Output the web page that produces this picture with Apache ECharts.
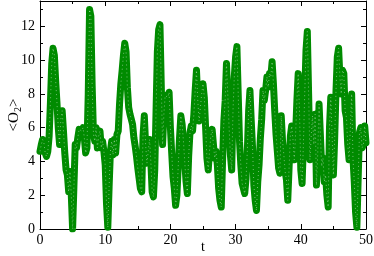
<!DOCTYPE html>
<html>
<head>
<meta charset="utf-8">
<script src="https://cdn.jsdelivr.net/npm/echarts@6/dist/echarts.min.js"></script>
<style>
html,body{margin:0;padding:0;background:#fff;}
#chart{width:374px;height:256px;}
</style>
</head>
<body>
<div id="chart"></div>
<script>
// sampling step of the time axis
const tStep = 0.2;
// <O2> values, sampled every 0.2 in t (5 values per unit of t)
const o2Values = [
  4.6,5.0,5.3,5.1,4.5,
  4.3,4.6,5.5,7.5,9.8,
  10.7,10.3,8.8,7.5,6.0,
  5.0,6.5,7.0,5.8,4.5,
  3.5,3.2,2.2,3.4,2.0,
  0.0,2.5,5.0,4.8,5.4,
  5.9,6.0,5.8,6.0,5.4,
  4.5,4.8,8.0,13.0,12.6,
  8.5,5.6,5.2,6.0,4.8,
  5.5,5.8,4.8,5.2,4.6,
  3.8,1.5,0.1,2.5,4.6,
  5.2,4.4,5.3,4.5,5.6,
  5.8,7.4,8.6,9.4,10.3,
  11.0,10.5,8.4,7.2,6.8,
  6.5,6.2,5.4,4.9,4.3,
  3.6,3.0,2.4,2.2,5.5,
  6.7,5.0,3.9,4.6,5.3,
  4.0,2.2,1.9,3.5,7.0,
  10.5,11.8,12.1,8.5,5.0,
  6.8,7.9,8.0,7.8,8.1,
  6.0,4.5,3.1,2.4,1.4,
  2.0,3.7,5.4,6.7,6.2,
  5.2,4.0,2.8,2.1,4.3,
  5.7,6.1,5.8,6.8,8.2,
  9.4,7.6,6.4,7.2,8.0,
  8.6,7.8,6.0,4.2,3.5,
  4.6,5.5,5.9,5.0,4.2,
  4.6,3.8,2.4,1.7,1.3,
  4.0,6.4,7.6,9.8,8.0,
  6.0,4.4,3.5,7.0,9.0,
  10.2,10.8,8.0,5.2,3.8,
  2.7,2.6,2.1,3.0,4.6,
  7.0,8.2,6.4,4.8,2.6,
  1.7,1.1,2.8,3.8,5.4,
  6.5,8.2,7.6,8.2,9.0,
  8.4,9.2,9.0,9.9,8.6,
  7.0,5.6,4.6,3.6,3.3,
  6.7,5.2,4.4,3.4,2.9,
  1.7,3.6,5.5,6.1,5.3,
  4.1,5.6,7.6,9.2,7.0,
  3.5,2.7,5.0,8.0,10.6,
  11.7,8.0,4.1,5.5,6.7,
  5.0,6.8,2.6,4.5,7.4,
  5.6,3.7,4.2,2.8,3.2,
  2.0,1.3,6.0,7.8,5.6,
  3.2,5.4,8.2,10.2,10.7,
  9.0,8.0,9.4,9.2,7.0,
  6.6,5.0,4.1,6.0,8.0,
  4.2,2.8,1.0,0.1,3.0,
  5.7,6.0,4.8,5.0,6.1,
  5.1
];
const xTicks = [0, 10, 20, 30, 40, 50];
const yTicks = [0, 2, 4, 6, 8, 10, 12];

const seriesData = o2Values.map((v, i) => [+(i * tStep).toFixed(2), v]);

const green = '#008b00';
const font = '"Liberation Serif", "DejaVu Serif", serif';

const axisCommon = {
  axisLine: { show: true, onZero: false, lineStyle: { color: '#000', width: 1 } },
  axisTick: { show: true, inside: true, length: 5, lineStyle: { color: '#000' } },
  minorTick: { show: true, splitNumber: 2, length: 3, lineStyle: { color: '#000' } },
  splitLine: { show: false },
  minorSplitLine: { show: false }
};

const chart = echarts.init(document.getElementById('chart'), null, { renderer: 'canvas' });
chart.setOption({
  animation: false,
  backgroundColor: '#fff',
  grid: { left: 40, right: 8, top: 1, bottom: 27, containLabel: false, outerBoundsMode: 'none' },
  xAxis: [
    Object.assign({}, axisCommon, {
      type: 'value', min: xTicks[0], max: xTicks[xTicks.length - 1], interval: 10,
      position: 'bottom',
      name: 't', nameLocation: 'middle', nameGap: 11, nameMoveOverlap: false,
      nameTextStyle: { fontFamily: font, fontSize: 14, color: '#000' },
      axisLabel: { show: true, fontFamily: font, fontSize: 14, color: '#000', margin: 4 }
    }),
    Object.assign({}, axisCommon, {
      type: 'value', min: xTicks[0], max: xTicks[xTicks.length - 1], interval: 10,
      position: 'top', axisLabel: { show: false }
    })
  ],
  yAxis: [
    Object.assign({}, axisCommon, {
      type: 'value', min: yTicks[0], max: 13.5, interval: 2,
      position: 'left',
      name: '<O{sub|2}>', nameLocation: 'middle', nameGap: 17, nameRotate: 90, nameMoveOverlap: false,
      nameTextStyle: {
        fontFamily: font, fontSize: 15, color: '#000',
        rich: { sub: { fontFamily: font, fontSize: 10, color: '#000', verticalAlign: 'bottom', padding: [8, 0, 0, 0] } }
      },
      axisLabel: { show: true, fontFamily: font, fontSize: 14, color: '#000', margin: 5, showMaxLabel: false }
    }),
    Object.assign({}, axisCommon, {
      type: 'value', min: yTicks[0], max: 13.5, interval: 2,
      position: 'right', axisLabel: { show: false }
    })
  ],
  series: [{
    type: 'line',
    data: seriesData,
    xAxisIndex: 0, yAxisIndex: 0,
    symbol: 'none',
    lineStyle: { color: green, width: 7, join: 'round', cap: 'round' },
    emphasis: { disabled: true }
  }, {
    type: 'line',
    data: seriesData,
    xAxisIndex: 0, yAxisIndex: 0,
    symbol: 'none',
    lineStyle: { color: '#ffffff', width: 1, type: [1, 3], opacity: 0.45 },
    emphasis: { disabled: true }
  }]
});
</script>
</body>
</html>
